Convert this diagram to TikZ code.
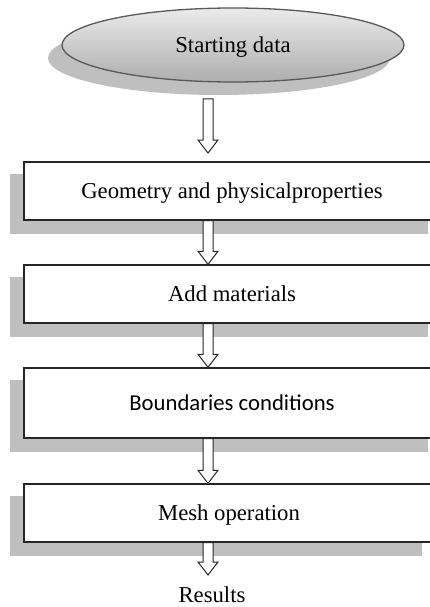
\documentclass[tikz,border=0pt]{standalone}
\usepackage{fontspec}
\setmainfont{Liberation Serif}
\newfontfamily\carlito{Carlito}
\usetikzlibrary{shapes.geometric,calc}
\pgfdeclarelayer{background}
\pgfsetlayers{background,main}
\newcommand\blockarr[2]{\draw[blockarrow] let \p1=(#1), \p2=(#2) in
  (\x1-5pt,\y1) -- (\x1-5pt,\y2+13pt) -- (\x1-10pt,\y2+13pt) -- (\x2,\y2)
  -- (\x1+10pt,\y2+13pt) -- (\x1+5pt,\y2+13pt) -- (\x1+5pt,\y1) -- cycle;}
\begin{document}
\begin{tikzpicture}[x=1pt,y=-1pt,
  every node/.style={font=\fontsize{22.7}{27}\selectfont, inner sep=0pt},
  stepbox/.style={draw=black!85, line width=1.4pt, fill=white, minimum height=58pt,
                  text height=15pt, text depth=0pt},
  shadowc/.style={fill=black!25},
  blockarrow/.style={draw=black!85, line width=1pt, fill=white, line join=miter}]
\useasboundingbox (0,0) rectangle (430,607);
\clip (0,0) rectangle (430,607);

\node[ellipse, draw=black!65, line width=1.3pt, top color=black!8, bottom color=black!32,
      minimum width=342pt, minimum height=74pt, text height=15pt, text depth=0pt]
      (start) at (233,45) {Starting data};
\node[stepbox, minimum width=416pt] (b1) at (232,191) {Geometry and physicalproperties};
\node[stepbox, minimum width=416pt] (b2) at (232,294) {Add materials};
\node[stepbox, minimum width=416pt, minimum height=70pt] (b3) at (232,403) {\carlito Boundaries conditions};
\node[stepbox, minimum width=410pt] (b4) at (229,513) {Mesh operation};
\node[anchor=base] (res) at (212,602) {Results};

\begin{pgfonlayer}{background}
\fill[shadowc] ([shift={(-14,13)}]start.center) ellipse [x radius=171, y radius=37];
\foreach \b in {b1,b2,b3,b4}
  \fill[shadowc] ([shift={(-13,13)}]\b.north west) rectangle ([shift={(-13,13)}]\b.south east);
\end{pgfonlayer}

\coordinate (ax) at (208,0);
\coordinate (a1s) at (208,99);
\coordinate (a1e) at (208,153);
\coordinate (a5e) at (208,575);

\blockarr{a1s}{a1e}
\blockarr{b1.south -| ax}{b2.north -| ax}
\blockarr{b2.south -| ax}{b3.north -| ax}
\blockarr{b3.south -| ax}{b4.north -| ax}
\blockarr{b4.south -| ax}{a5e}
\end{tikzpicture}
\end{document}
